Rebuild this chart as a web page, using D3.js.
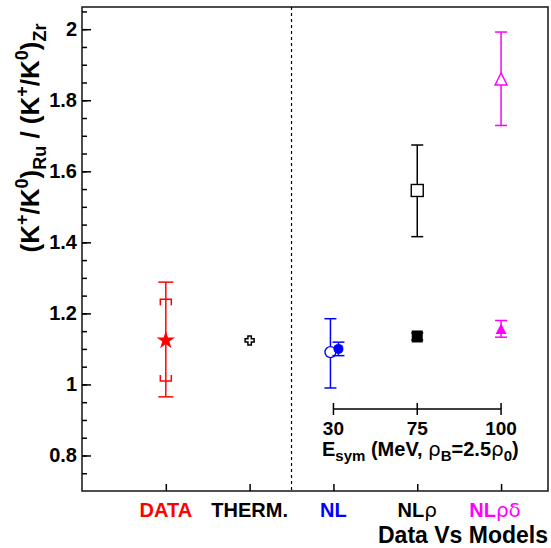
<!DOCTYPE html>
<html>
  <head>
    <style>
      body {
        margin: 0;
        background: #fff;
      }
      svg {
        display: block;
        font-family: "Liberation Sans", Arial, sans-serif;
      }
      .axis path, .axis line {
        stroke: #000;
        stroke-width: 1.5px;
      }
      .axis text {
        font-weight: bold;
        fill: #000;
      }
    </style>
  </head>
  <body>
    <script src="https://d3js.org/d3.v7.min.js"></script>
    <script>
      // categories along the x axis
      const categories = ["DATA", "THERM.", "NL", "NLρ", "NLρδ"],
          catColors = ["#ff0000", "#000000", "#0000ff", "#000000", "#ff00ff"];

      // measured ratio (star) with stat and sys errors
      const dataValue = 1.124,
          dataStat = [0.965, 1.288],
          dataSys = [1.01, 1.24];

      // thermal model
      const thermValue = 1.124;

      // transport models: open markers and filled markers (NL, NLρ, NLρδ)
      const openValues = [1.091, 1.546, 1.86],
          openLow = [0.99, 1.416, 1.729],
          openHigh = [1.185, 1.674, 1.992];
      const filledValues = [1.10, 1.135, 1.156],
          filledLow = [1.081, 1.125, 1.133],
          filledHigh = [1.119, 1.145, 1.18];

      // inset axis labels
      const esymLabels = ["30", "75", "100"];
      const yMajor = [0.8, 1, 1.2, 1.4, 1.6, 1.8, 2];

      const width = 551, height = 548,
          margin = {left: 82, right: 3, top: 7, bottom: 57};

      const svg = d3.select("body").append("svg")
          .attr("width", width)
          .attr("height", height);

      const x = d3.scaleLinear()
          .domain([0, 5.56])
          .range([margin.left, width - margin.right]);
      const y = d3.scaleLinear()
          .domain([0.7, 2.0625])
          .range([height - margin.bottom, margin.top]);

      const catX = i => x(i + 1);

      // frame
      svg.append("rect")
          .attr("x", x(0)).attr("y", y(2.0625))
          .attr("width", x(5.56) - x(0))
          .attr("height", y(0.7) - y(2.0625))
          .attr("fill", "none")
          .attr("stroke", "#222")
          .attr("stroke-width", 1.6);

      // y axis, ticks pointing inward
      svg.append("g")
          .attr("class", "axis")
          .attr("transform", `translate(${x(0)},0)`)
          .call(d3.axisLeft(y).tickValues(d3.range(0.75, 2.06, 0.05)).tickSize(-5).tickFormat(""))
          .call(g => g.select(".domain").remove());
      svg.append("g")
          .attr("class", "axis")
          .attr("transform", `translate(${x(0)},0)`)
          .call(d3.axisLeft(y).tickValues(yMajor).tickSize(-9).tickPadding(5).tickFormat(d3.format("")))
          .call(g => g.select(".domain").remove())
          .call(g => g.selectAll("text").attr("x", -5).style("font-size", "20px"));

      // x axis, ticks pointing inward
      svg.append("g")
          .attr("class", "axis")
          .attr("transform", `translate(0,${y(0.7)})`)
          .call(d3.axisBottom(x).tickValues([1, 2, 3, 4, 5]).tickSize(-7).tickFormat(""))
          .call(g => g.select(".domain").remove());

      categories.forEach((c, i) => {
        const t = svg.append("text")
            .attr("x", catX(i) - (i === 4 ? 6 : 0))
            .attr("y", 517)
            .attr("text-anchor", "middle")
            .attr("fill", catColors[i])
            .style("font-size", "20px")
            .style("font-weight", "bold");
        const m = c.match(/^([A-Z.]+)(.*)$/);
        t.append("tspan").text(m[1]);
        if (m[2]) t.append("tspan").style("font-weight", "normal").style("font-family", "DejaVu Sans").text(m[2]);
      });

      svg.append("text")
          .attr("x", 548)
          .attr("y", 543)
          .attr("text-anchor", "end")
          .style("font-size", "23px")
          .style("font-weight", "bold")
          .text("Data Vs Models");

      // y title
      const yt = svg.append("text")
          .attr("transform", "translate(39,138) rotate(-90)")
          .attr("text-anchor", "middle")
          .style("font-size", "26px")
          .style("font-weight", "bold");
      yt.append("tspan").text("(K");
      yt.append("tspan").attr("dy", -11).style("font-size", "18px").text("+");
      yt.append("tspan").attr("dy", 11).text("/K");
      yt.append("tspan").attr("dy", -11).style("font-size", "18px").text("0");
      yt.append("tspan").attr("dy", 11).text(")");
      yt.append("tspan").attr("dy", 7).style("font-size", "18px").text("Ru");
      yt.append("tspan").attr("dy", -7).text(" / (K");
      yt.append("tspan").attr("dy", -11).style("font-size", "18px").text("+");
      yt.append("tspan").attr("dy", 11).text("/K");
      yt.append("tspan").attr("dy", -11).style("font-size", "18px").text("0");
      yt.append("tspan").attr("dy", 11).text(")");
      yt.append("tspan").attr("dy", 7).style("font-size", "18px").text("Zr");

      // dashed separator
      svg.append("line")
          .attr("x1", x(2.5)).attr("x2", x(2.5))
          .attr("y1", y(2.0625)).attr("y2", y(0.7))
          .attr("stroke", "#000")
          .attr("stroke-width", 1.2)
          .attr("stroke-dasharray", "3,3");

      function errorBar(cx, lo, hi, color, cap, gapTop, gapBot) {
        const g = svg.append("g").attr("stroke", color).attr("stroke-width", 1.5);
        g.append("line").attr("x1", cx).attr("x2", cx).attr("y1", y(hi)).attr("y2", gapTop);
        g.append("line").attr("x1", cx).attr("x2", cx).attr("y1", gapBot).attr("y2", y(lo));
        g.append("line").attr("x1", cx - cap / 2).attr("x2", cx + cap / 2).attr("y1", y(hi)).attr("y2", y(hi));
        g.append("line").attr("x1", cx - cap / 2).attr("x2", cx + cap / 2).attr("y1", y(lo)).attr("y2", y(lo));
      }

      // DATA
      const dx = catX(0);
      errorBar(dx, dataStat[0], dataStat[1], "#ff0000", 15, y(dataValue), y(dataValue));
      [[dataSys[1], 1], [dataSys[0], -1]].forEach(([v, dir]) => {
        const yy = y(v);
        svg.append("path")
            .attr("d", `M${dx - 5.5},${yy + dir * 6}V${yy}H${dx + 5.5}V${yy + dir * 6}`)
            .attr("fill", "none")
            .attr("stroke", "#ff0000")
            .attr("stroke-width", 1.5);
      });
      svg.append("path")
          .attr("transform", `translate(${dx},${y(dataValue)})`)
          .attr("d", d3.symbol(d3.symbolStar, 105)())
          .attr("fill", "#ff0000");

      // THERM.
      const cross = "M-1.7,-4.5H1.7V-1.7H4.5V1.7H1.7V4.5H-1.7V1.7H-4.5V-1.7H-1.7Z";
      svg.append("path")
          .attr("transform", `translate(${catX(1)},${y(thermValue)})`)
          .attr("d", cross)
          .attr("fill", "#fff")
          .attr("stroke", "#000")
          .attr("stroke-width", 1.5);

      // models
      const openOffset = [-3, 0, 0], filledOffset = [5, 0, 0];
      const modelColors = ["#0000ff", "#000000", "#ff00ff"];
      openValues.forEach((v, i) => {
        const cx = catX(i + 2) + openOffset[i], cy = y(v), c = modelColors[i];
        errorBar(cx, openLow[i], openHigh[i], c, 12, cy - 6, cy + 6);
        if (i === 0) {
          svg.append("circle").attr("cx", cx).attr("cy", cy).attr("r", 5.5)
              .attr("fill", "#fff").attr("stroke", c).attr("stroke-width", 1.4);
        } else if (i === 1) {
          svg.append("rect").attr("x", cx - 6).attr("y", cy - 6).attr("width", 12).attr("height", 12)
              .attr("fill", "#fff").attr("stroke", c).attr("stroke-width", 1.4);
        } else {
          svg.append("path").attr("d", `M${cx},${cy - 6}L${cx + 6},${cy + 6}H${cx - 6}Z`)
              .attr("fill", "#fff").attr("stroke", c).attr("stroke-width", 1.4);
        }
      });
      filledValues.forEach((v, i) => {
        const cx = catX(i + 2) + filledOffset[i], cy = y(v), c = modelColors[i];
        errorBar(cx, filledLow[i], filledHigh[i], c, 12, cy, cy);
        if (i === 0) {
          svg.append("circle").attr("cx", cx).attr("cy", cy).attr("r", 5)
              .attr("fill", c);
        } else if (i === 1) {
          svg.append("rect").attr("x", cx - 5.5).attr("y", cy - 6).attr("width", 11).attr("height", 12)
              .attr("fill", c);
        } else {
          svg.append("path").attr("d", `M${cx},${cy - 5.5}L${cx + 5.5},${cy + 5}H${cx - 5.5}Z`)
              .attr("fill", c);
        }
      });

      // inset Esym axis
      const insetY = 409;
      const inset = svg.append("g").attr("stroke", "#000").attr("stroke-width", 1.5);
      inset.append("line").attr("x1", catX(2)).attr("x2", catX(4)).attr("y1", insetY).attr("y2", insetY);
      esymLabels.forEach((l, i) => {
        inset.append("line").attr("x1", catX(i + 2)).attr("x2", catX(i + 2))
            .attr("y1", insetY - 6).attr("y2", insetY + 6);
        svg.append("text")
            .attr("x", catX(i + 2))
            .attr("y", 435)
            .attr("text-anchor", "middle")
            .style("font-size", "19px")
            .style("font-weight", "bold")
            .text(l);
      });
      const et = svg.append("text")
          .attr("x", 322)
          .attr("y", 456)
          .style("font-size", "20px")
          .style("font-weight", "bold");
      et.append("tspan").text("E");
      et.append("tspan").attr("dy", 5).style("font-size", "15px").text("sym");
      et.append("tspan").attr("dy", -5).text(" (MeV, ");
      et.append("tspan").style("font-weight", "normal").style("font-family", "DejaVu Sans").text("ρ");
      et.append("tspan").attr("dy", 5).style("font-size", "15px").text("B");
      et.append("tspan").attr("dy", -5).text("=2.5");
      et.append("tspan").style("font-weight", "normal").style("font-family", "DejaVu Sans").text("ρ");
      et.append("tspan").attr("dy", 5).style("font-size", "15px").text("0");
      et.append("tspan").attr("dy", -5).text(")");
    </script>
  </body>
</html>
